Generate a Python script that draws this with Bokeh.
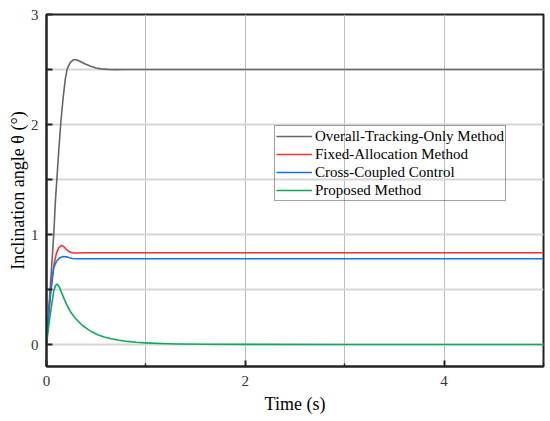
from bokeh.plotting import figure
from bokeh.models import FixedTicker, Range1d, Legend, LegendItem
from bokeh.embed import file_html
from bokeh.resources import INLINE

# ---- data ----
t_gray = [0, 0.02, 0.04, 0.073, 0.09, 0.123, 0.145, 0.167, 0.19, 0.21, 0.24, 0.27, 0.30,
          0.34, 0.39, 0.44, 0.5, 0.55, 0.62, 0.7, 0.8, 1.0, 2.0, 3.0, 4.0, 5.0]
y_gray = [0, 0.28, 0.55, 1.0, 1.31, 1.76, 2.03, 2.24, 2.42, 2.51, 2.565, 2.588, 2.588,
          2.572, 2.55, 2.532, 2.514, 2.506, 2.501, 2.499, 2.5, 2.5, 2.5, 2.5, 2.5, 2.5]

t_red = [0, 0.02, 0.04, 0.057, 0.08, 0.1, 0.125, 0.147, 0.17, 0.195, 0.22, 0.25, 0.28,
         0.32, 0.4, 1.0, 2.0, 3.0, 4.0, 5.0]
y_red = [0, 0.27, 0.48, 0.61, 0.75, 0.83, 0.88, 0.9, 0.893, 0.868, 0.848, 0.836, 0.832,
         0.832, 0.834, 0.834, 0.834, 0.834, 0.834, 0.834]

t_blue = [0, 0.02, 0.04, 0.073, 0.1, 0.13, 0.167, 0.2, 0.23, 0.26, 0.3, 0.4, 1.0,
          2.0, 3.0, 4.0, 5.0]
y_blue = [0, 0.24, 0.45, 0.70, 0.755, 0.787, 0.80, 0.797, 0.788, 0.782, 0.779, 0.779,
          0.779, 0.779, 0.779, 0.779, 0.779]

t_green = [0, 0.02, 0.047, 0.073, 0.09, 0.107, 0.13, 0.155, 0.18, 0.21, 0.247, 0.28,
           0.314, 0.36, 0.414, 0.46, 0.514, 0.58, 0.65, 0.73, 0.815, 0.9, 1.0, 1.15,
           1.32, 1.6, 2.0, 3.0, 5.0]
y_green = [0, 0.15, 0.33, 0.485, 0.535, 0.55, 0.52, 0.465, 0.41, 0.35, 0.29, 0.25,
           0.216, 0.175, 0.14, 0.113, 0.088, 0.068, 0.052, 0.039, 0.028, 0.021, 0.015,
           0.009, 0.005, 0.002, 0.001, 0, 0]

series_names = ["Overall-Tracking-Only Method", "Fixed-Allocation Method",
                "Cross-Coupled Control", "Proposed Method"]
series_colors = ["#666666", "#ff2e2e", "#1673f0", "#10a85a"]

x_ticks = [0, 2, 4]
x_minor = [1, 3, 5]
y_ticks = [0, 0.5, 1, 1.5, 2, 2.5, 3]
y_labels = {0: "0", 0.5: "", 1: "1", 1.5: "", 2: "2", 2.5: "", 3: "3"}

FONT = "Liberation Serif"

p = figure(width=546, height=417, output_backend="svg", toolbar_location=None,
           x_range=Range1d(0, 5), y_range=Range1d(-0.2, 3),
           min_border_left=46, min_border_right=3, min_border_top=14, min_border_bottom=51)

p.background_fill_color = "white"
p.border_fill_color = "white"
p.outline_line_color = "#222222"
p.outline_line_width = 2

# grids
p.xgrid.ticker = FixedTicker(ticks=[1, 2, 3, 4])
p.xgrid.grid_line_color = "#bdbdbd"
p.xgrid.grid_line_width = 1
p.ygrid.ticker = FixedTicker(ticks=y_ticks)
p.ygrid.grid_line_color = "#d6d6d6"
p.ygrid.grid_line_width = 2

# axes
p.xaxis.ticker = FixedTicker(ticks=x_ticks, minor_ticks=x_minor)
p.yaxis.ticker = FixedTicker(ticks=y_ticks)
p.yaxis.major_label_overrides = y_labels
for ax in (p.xaxis[0], p.yaxis[0]):
    ax.axis_line_color = "#222222"
    ax.axis_line_width = 2
    ax.major_tick_line_color = "#222222"
    ax.major_tick_line_width = 2
    ax.major_tick_in = 6
    ax.major_tick_out = 0
    ax.minor_tick_line_color = "#222222"
    ax.minor_tick_line_width = 1.5
    ax.minor_tick_in = 3
    ax.minor_tick_out = 0
    ax.major_label_text_font = FONT
    ax.major_label_text_font_size = "15px"
    ax.major_label_text_color = "#333333"
    ax.axis_label_text_font = FONT
    ax.axis_label_text_font_size = "18px"
    ax.axis_label_text_font_style = "normal"
    ax.axis_label_text_color = "#000000"
p.yaxis.minor_tick_line_color = None
p.xaxis.major_label_standoff = 9
p.yaxis.major_label_standoff = 8
p.xaxis.axis_label_standoff = 5
p.yaxis.axis_label_standoff = 0
p.xaxis.axis_label = "Time (s)"
p.yaxis.axis_label = "Inclination angle θ (°)"

renderers = []
for tx, yy, c in [(t_gray, y_gray, series_colors[0]), (t_red, y_red, series_colors[1]),
                  (t_blue, y_blue, series_colors[2]), (t_green, y_green, series_colors[3])]:
    r = p.line(tx, yy, line_color=c, line_width=1.6, line_join="round")
    renderers.append(r)

legend = Legend(items=[LegendItem(label=n, renderers=[r]) for n, r in zip(series_names, renderers)],
                location=(228, 165))
legend.background_fill_alpha = 0
legend.border_line_color = "#444444"
legend.border_line_width = 1
legend.label_text_font = FONT
legend.label_text_font_size = "15px"
legend.label_text_color = "#000000"
legend.glyph_width = 36
legend.glyph_height = 18
legend.label_height = 18
legend.label_standoff = 3
legend.spacing = 0
legend.padding = 1
legend.margin = 0
p.add_layout(legend, "center")

open("out.html", "w").write(file_html(p, INLINE))
